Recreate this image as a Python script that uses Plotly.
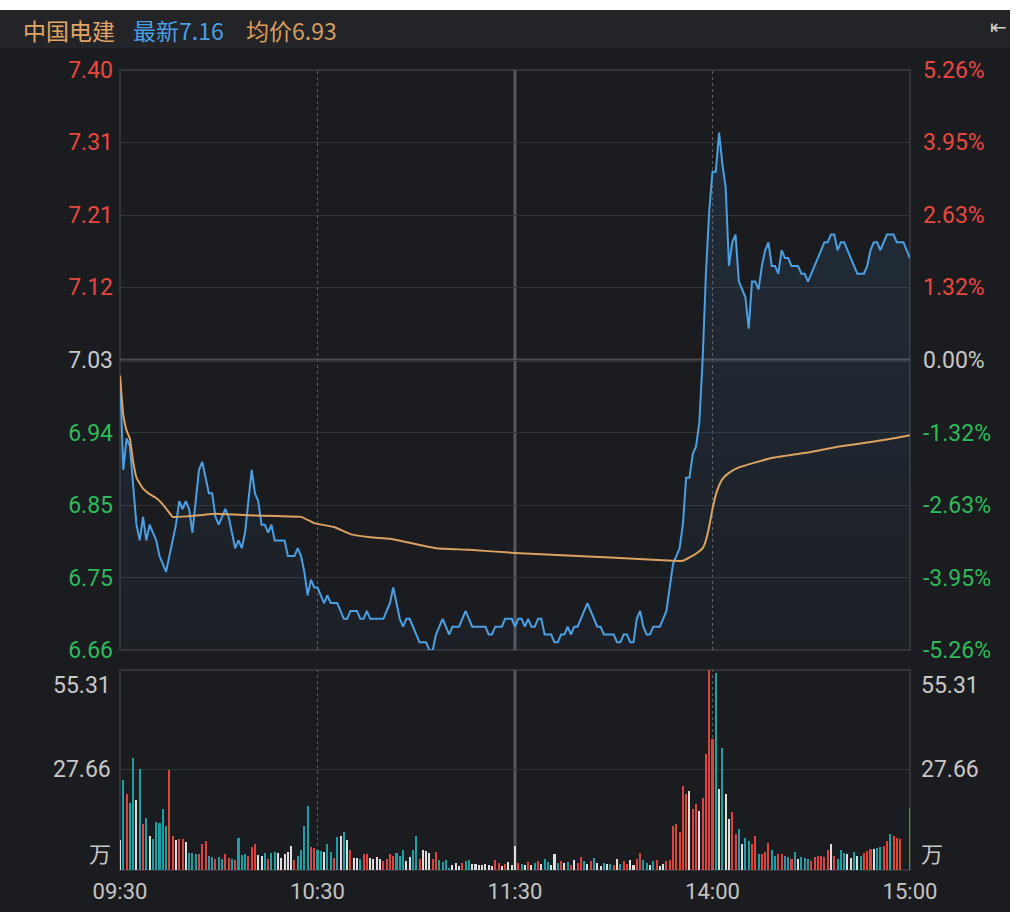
import plotly.graph_objects as go

# figure fills the 1014x912 window (body margin removed in post_script)
PAGE_W, PAGE_H = 1014, 912
OFF = 0
W, H = PAGE_W - OFF, PAGE_H - OFF

# ---------------- data ----------------
stock_name = "中国电建"
prev_close = 7.03
time_ticks = [0, 60, 120, 180, 240]
time_labels = ["09:30", "10:30", "11:30", "14:00", "15:00"]
pct_levels = [5.26, 3.95, 2.63, 1.32, 0.00, -1.32, -2.63, -3.95, -5.26]
price_labels = ["7.40", "7.31", "7.21", "7.12", "7.03", "6.94", "6.85", "6.75", "6.66"]
vol_ticks = [55.31, 27.66]
vol_labels = ["55.31", "27.66"]
vol_unit = "万"

# minute-by-minute last price (09:30 .. 11:30, 13:00 .. 15:00)
price = [
    7.01, 6.89, 6.93, 6.92, 6.87, 6.82, 6.80, 6.83, 6.80, 6.82,
    6.81, 6.80, 6.78, 6.77, 6.76, 6.78, 6.80, 6.82, 6.85, 6.84,
    6.85, 6.84, 6.81, 6.85, 6.89, 6.90, 6.88, 6.86, 6.86, 6.83,
    6.82, 6.83, 6.84, 6.83, 6.81, 6.79, 6.80, 6.79, 6.81, 6.85,
    6.89, 6.86, 6.85, 6.82, 6.82, 6.81, 6.82, 6.80, 6.80, 6.80,
    6.80, 6.78, 6.78, 6.78, 6.79, 6.78, 6.76, 6.73, 6.75, 6.74,
    6.74, 6.73, 6.72, 6.73, 6.72, 6.72, 6.72, 6.71, 6.70, 6.70,
    6.71, 6.71, 6.71, 6.70, 6.70, 6.71, 6.70, 6.70, 6.70, 6.70,
    6.70, 6.71, 6.72, 6.74, 6.72, 6.70, 6.69, 6.70, 6.70, 6.69,
    6.68, 6.67, 6.67, 6.67, 6.66, 6.66, 6.68, 6.69, 6.70, 6.69,
    6.68, 6.69, 6.69, 6.69, 6.70, 6.71, 6.70, 6.69, 6.69, 6.69,
    6.69, 6.69, 6.68, 6.68, 6.69, 6.69, 6.69, 6.70, 6.70, 6.70,
    6.69, 6.70, 6.70, 6.69, 6.70, 6.69, 6.69, 6.70, 6.70, 6.68,
    6.68, 6.68, 6.67, 6.67, 6.68, 6.68, 6.69, 6.68, 6.69, 6.69,
    6.70, 6.71, 6.72, 6.71, 6.70, 6.69, 6.69, 6.68, 6.68, 6.68,
    6.68, 6.67, 6.67, 6.68, 6.68, 6.67, 6.67, 6.70, 6.71, 6.69,
    6.68, 6.68, 6.69, 6.69, 6.69, 6.70, 6.71, 6.74, 6.77, 6.78,
    6.79, 6.82, 6.88, 6.88, 6.91, 6.92, 6.95, 7.03, 7.14, 7.22,
    7.27, 7.27, 7.32, 7.28, 7.25, 7.15, 7.18, 7.19, 7.13, 7.12,
    7.11, 7.07, 7.13, 7.13, 7.12, 7.15, 7.17, 7.18, 7.15, 7.15,
    7.14, 7.17, 7.16, 7.16, 7.15, 7.15, 7.15, 7.14, 7.14, 7.13,
    7.14, 7.15, 7.16, 7.17, 7.18, 7.18, 7.19, 7.19, 7.17, 7.18,
    7.18, 7.17, 7.16, 7.15, 7.14, 7.14, 7.14, 7.15, 7.17, 7.18,
    7.18, 7.17, 7.18, 7.19, 7.19, 7.19, 7.18, 7.18, 7.18, 7.17,
    7.16,
]

# average-price line, sampled at these minute indexes
avg_minute = [0, 1, 2, 3, 4, 5, 7, 9, 11, 13, 15, 16, 24, 29, 39, 48, 55, 59, 65, 70,
              76, 82, 88, 96, 106, 120, 139, 159, 168, 171, 175, 177, 178, 179, 180,
              181, 182, 183, 185, 188, 198, 209, 219, 229, 236, 240]
avg_price = [7.010, 6.960, 6.940, 6.930, 6.900, 6.880, 6.866, 6.859, 6.854, 6.846,
             6.835, 6.830, 6.832, 6.834, 6.832, 6.831, 6.830, 6.822, 6.817, 6.808,
             6.804, 6.802, 6.797, 6.790, 6.788, 6.784, 6.780, 6.776, 6.774, 6.774,
             6.783, 6.790, 6.800, 6.818, 6.840, 6.858, 6.870, 6.878, 6.886, 6.893,
             6.905, 6.912, 6.920, 6.926, 6.931, 6.934]

# minute volume (万股)
volume = [
    8.2, 24.9, 20.9, 18.6, 30.9, 19.3, 28.0, 12.6, 14.3, 9.4,
    8.7, 13.3, 12.9, 17.0, 12.2, 27.6, 9.4, 8.2, 8.7, 8.5,
    7.7, 4.8, 4.8, 4.5, 4.3, 7.1, 8.0, 3.9, 3.7, 3.1,
    3.7, 3.0, 4.5, 3.3, 3.1, 2.8, 8.8, 4.1, 4.5, 3.9,
    6.5, 7.1, 4.1, 3.9, 4.8, 3.0, 4.8, 5.0, 4.8, 3.2,
    4.5, 5.0, 6.6, 2.8, 4.0, 5.4, 12.2, 17.7, 6.4, 6.2,
    5.5, 5.3, 5.0, 7.1, 5.0, 3.2, 9.2, 9.4, 10.5, 8.3,
    5.5, 3.2, 3.2, 3.0, 4.3, 4.3, 3.2, 3.1, 3.7, 3.1,
    2.4, 3.1, 4.3, 3.9, 4.8, 3.9, 5.4, 2.5, 3.7, 5.4,
    9.4, 3.0, 5.4, 5.3, 4.8, 3.0, 5.0, 2.8, 2.2, 2.7,
    0.6, 1.4, 2.0, 1.1, 2.0, 2.5, 2.7, 1.6, 1.7, 1.4,
    1.5, 1.6, 1.3, 1.1, 2.7, 1.8, 1.1, 1.6, 2.2, 1.5,
    6.6, 2.0, 1.7, 1.5, 2.2, 1.3, 1.8, 2.5, 1.6, 3.0,
    2.2, 1.5, 4.5, 2.0, 2.6, 1.8, 2.2, 1.5, 2.8, 2.0,
    3.5, 2.5, 1.6, 2.4, 3.2, 2.0, 1.1, 1.8, 1.6, 1.6,
    1.5, 3.1, 1.6, 2.5, 1.6, 2.7, 1.3, 3.1, 4.8, 2.7,
    1.8, 1.3, 2.5, 2.7, 1.1, 1.6, 2.5, 2.7, 12.2, 12.6,
    10.5, 23.2, 20.9, 21.9, 17.0, 18.2, 16.4, 20.0, 32.0, 55.31,
    36.1, 54.6, 22.3, 33.8, 20.9, 14.2, 16.0, 9.9, 11.4, 7.1,
    8.9, 8.0, 7.1, 9.4, 4.3, 4.3, 5.0, 7.6, 5.5, 3.9,
    4.3, 4.3, 3.9, 3.7, 3.0, 5.0, 3.0, 3.7, 3.4, 3.1,
    2.5, 3.6, 3.9, 3.9, 3.7, 5.5, 7.1, 3.9, 3.0, 5.5,
    4.8, 4.3, 3.2, 5.0, 3.9, 3.9, 4.8, 5.3, 5.9, 5.7,
    6.2, 6.5, 6.6, 8.0, 9.9, 9.4, 8.9, 8.6, 0.0, 0.0,
    17.1,
]
# bar direction per minute: R = up, T = down, W = flat
volume_dir = list(
    "WTRTTWTRTW" "TTTTTRRWRR" "WTTTRRRTTR" "TTRRTRTTTR" "RRWWTRTTWW"
    "WWWRTTTTRR" "TTWTTRTWTW" "RWWTRRWWWW" "RRRRTTTWWT" "TRWWWRRTTT"
    "TWWWRTTWWW" "WWWWRRWRWW" "WRTWRWTRWT" "TWWTRWTRWR" "RTWRTWWTWT"
    "RWTRRWWRRT" "TWTRWWRRRR" "RRRWRRWRRR" "RTWTWWRRTW" "TTRRTRRRTT"
    "RRTTRTWTTT" "RRRRRRWRTT" "TWWTWTRRRW" "TTRRTRRRWW" "T"
)

# ---------------- style ----------------
BG = "#1b1c20"
HEADER_BG = "#232428"
GRID = "#333439"
FRAME = "#3b3c41"
BLUE = "#4b9fe3"
ORANGE = "#dba261"
UP = "#e8483f"
DOWN = "#2dba58"
FLAT = "#c8c8c8"
BAR_COL = {"R": "#dc443d", "T": "#1f9fa3", "W": "#dedede"}
NUM_FONT = "Roboto, 'Noto Sans CJK SC', sans-serif"
CJK_FONT = "'Noto Sans CJK SC', sans-serif"

PL, PR = 120, 910          # plot left/right (page px)
P_TOP, P_BOT = 70, 650     # price panel
V_TOP, V_BOT = 670, 870    # volume panel


def fx(p):
    return (p - OFF) / W


def fy(p):
    return 1 - (p - OFF) / H


minutes = list(range(len(price)))
ymin = prev_close * (1 + pct_levels[-1] / 100)
ymax = prev_close * (1 + pct_levels[0] / 100)
level_vals = [prev_close * (1 + p / 100) for p in pct_levels]


def level_color(p):
    return UP if p > 0 else (DOWN if p < 0 else FLAT)


left_text = [f'<span style="color:{level_color(p)}">{t}</span>'
             for p, t in zip(pct_levels, price_labels)]
right_text = [f'<span style="color:{level_color(p)}">{p:.2f}%</span>'
              for p in pct_levels]

fig = go.Figure()

fig.add_trace(go.Scatter(
    x=minutes, y=price, mode="lines", xaxis="x", yaxis="y",
    line=dict(color=BLUE, width=2),
    fill="tozeroy",
    fillgradient=dict(type="vertical", start=ymin, stop=ymax,
                      colorscale=[[0, "rgba(74,150,215,0.03)"],
                                  [1, "rgba(74,150,215,0.15)"]]),
    hoverinfo="skip", showlegend=False))
fig.add_trace(go.Scatter(
    x=avg_minute, y=avg_price, mode="lines", xaxis="x", yaxis="y",
    line=dict(color=ORANGE, width=2, shape="spline", smoothing=0.4),
    hoverinfo="skip", showlegend=False))
fig.add_trace(go.Scatter(
    x=[minutes[0]], y=[prev_close], mode="markers", xaxis="x", yaxis="y3",
    marker=dict(opacity=0), hoverinfo="skip", showlegend=False))
fig.add_trace(go.Bar(
    x=minutes, y=volume, xaxis="x2", yaxis="y2",
    marker=dict(color=[BAR_COL[d] for d in volume_dir], line=dict(width=0)),
    width=0.62, hoverinfo="skip", showlegend=False))

xdom = [fx(PL), fx(PR)]
fig.update_layout(
    width=W, height=H, autosize=False,
    margin=dict(l=0, r=0, t=0, b=0, pad=0, autoexpand=False),
    paper_bgcolor="#ffffff", plot_bgcolor="rgba(0,0,0,0)",
    bargap=0,
    xaxis=dict(domain=xdom, range=[time_ticks[0], time_ticks[-1]], anchor="y",
               showticklabels=False, showgrid=False, zeroline=False,
               showline=False, fixedrange=True, automargin=False),
    yaxis=dict(domain=[fy(P_BOT), fy(P_TOP)], range=[ymin, ymax], anchor="x",
               tickmode="array", tickvals=level_vals, ticktext=left_text,
               showgrid=True, gridcolor=GRID, gridwidth=1, zeroline=False,
               showline=False, ticks="", ticklabelstandoff=6, automargin=False,
               tickfont=dict(family=NUM_FONT, size=23, color=FLAT)),
    yaxis3=dict(overlaying="y", side="right", range=[ymin, ymax], anchor="x",
                tickmode="array", tickvals=level_vals, ticktext=right_text,
                showgrid=False, zeroline=False, showline=False, ticks="",
                ticklabelstandoff=12, automargin=False,
                tickfont=dict(family=NUM_FONT, size=23, color=FLAT)),
    xaxis2=dict(domain=xdom, range=[time_ticks[0], time_ticks[-1]], anchor="y2",
                tickmode="array", tickvals=time_ticks, ticktext=time_labels,
                showgrid=False, zeroline=False, showline=False, ticks="",
                ticklabelstandoff=6, automargin=False,
                tickfont=dict(family=NUM_FONT, size=22, color="#c4c4c4")),
    yaxis2=dict(domain=[fy(V_BOT), fy(V_TOP)], range=[0, vol_ticks[0]], anchor="x2",
                tickmode="array", tickvals=[vol_ticks[1]], showticklabels=False,
                showgrid=True, gridcolor=GRID, gridwidth=1, zeroline=False,
                showline=False, ticks="", automargin=False),
)

shapes = [
    dict(type="rect", xref="paper", yref="paper", x0=0, x1=1, y0=0, y1=fy(10),
         fillcolor=BG, line=dict(width=0), layer="below"),
    dict(type="rect", xref="paper", yref="paper", x0=0, x1=1, y0=fy(48), y1=fy(10),
         fillcolor=HEADER_BG, line=dict(width=0), layer="below"),
    dict(type="rect", xref="x domain", yref="y domain", x0=0, x1=1, y0=0, y1=1,
         line=dict(color=FRAME, width=1.5), layer="below"),
    dict(type="rect", xref="x2 domain", yref="y2 domain", x0=0, x1=1, y0=0, y1=1,
         line=dict(color=FRAME, width=1.5), layer="below"),
    dict(type="line", xref="x domain", yref="y", x0=0, x1=1,
         y0=prev_close, y1=prev_close, line=dict(color="#4a4b50", width=3),
         layer="below"),
    dict(type="rect", xref="paper", yref="paper", x0=fx(1010), x1=1, y0=0, y1=1,
         fillcolor="#ffffff", line=dict(width=0), layer="above"),
]
for t in time_ticks[1:-1]:
    solid = (t == time_ticks[2])
    ln = dict(color="#56575c" if solid else "#5e5f64",
              width=3 if solid else 1, dash="solid" if solid else "3px,3px")
    shapes.append(dict(type="line", xref="x", yref="y domain", x0=t, x1=t,
                       y0=0, y1=1, line=ln, layer="below"))
    shapes.append(dict(type="line", xref="x2", yref="y2 domain", x0=t, x1=t,
                       y0=0, y1=1, line=ln, layer="below"))
fig.update_layout(shapes=shapes)

ann = []
hfont = 23
ann.append(dict(text=stock_name, x=fx(21), y=fy(30), xref="paper", yref="paper",
                xanchor="left", yanchor="middle", showarrow=False,
                font=dict(family=CJK_FONT, size=hfont, color="#e2a566")))
ann.append(dict(text=f"最新{price[-1]:.2f}", x=fx(131), y=fy(30), xref="paper",
                yref="paper", xanchor="left", yanchor="middle", showarrow=False,
                font=dict(family=CJK_FONT, size=hfont, color="#4a9fe6")))
ann.append(dict(text=f"均价{avg_price[-1]:.2f}", x=fx(244), y=fy(30), xref="paper",
                yref="paper", xanchor="left", yanchor="middle", showarrow=False,
                font=dict(family=CJK_FONT, size=hfont, color="#d99d5c")))
ann.append(dict(text="⇤", x=fx(1009), y=fy(27), xref="paper", yref="paper",
                xanchor="right", yanchor="middle", showarrow=False,
                font=dict(family="DejaVu Sans", size=20, color="#cfcfcf")))

# volume labels (both sides)
vfont = dict(family=NUM_FONT, size=23, color="#c8c8c8")
for side_x, anchor in ((fx(PL - 7), "right"), (fx(PR + 9), "left")):
    ann.append(dict(text=vol_labels[0], x=side_x, y=vol_ticks[0], xref="paper",
                    yref="y2", xanchor=anchor, yanchor="top", showarrow=False,
                    font=vfont))
    ann.append(dict(text=vol_labels[1], x=side_x, y=vol_ticks[1], xref="paper",
                    yref="y2", xanchor=anchor, yanchor="middle", showarrow=False,
                    font=vfont))
    ann.append(dict(text=vol_unit, x=side_x, y=0, xref="paper", yref="y2",
                    xanchor=anchor, yanchor="bottom", showarrow=False,
                    font=dict(family=CJK_FONT, size=22, color="#c8c8c8")))
fig.update_layout(annotations=ann)

fig.write_html("out.html", post_script="document.body.style.margin='0px';",
               config={"displayModeBar": False})
